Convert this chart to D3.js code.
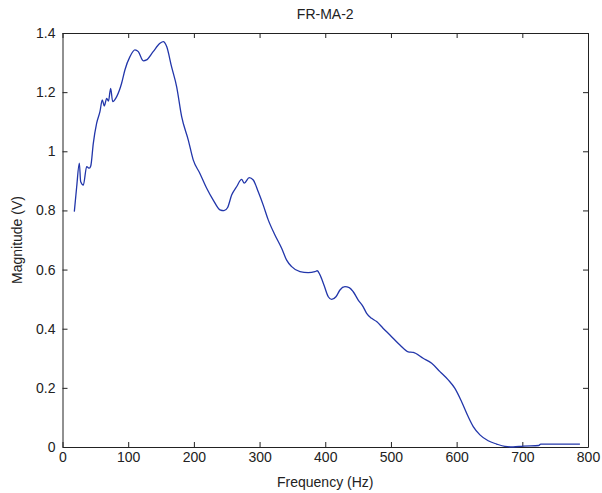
<!DOCTYPE html>
<html>
<head>
<meta charset="UTF-8">
<title>FR-MA-2</title>
<script src="https://cdn.jsdelivr.net/npm/d3@7"></script>
<style>
  body { margin: 0; background: #fff; }
  text { font-family: "Liberation Sans", Arial, sans-serif; fill: #222; }
</style>
</head>
<body>
<script>
// frequency (Hz) and magnitude (V)
var freq = [18, 21.6, 25.6, 27.7, 31.7, 36.8, 40.8, 43, 46.9, 52, 57, 60.6, 63.6, 67.3, 70, 73.3, 76.4,
  82.5, 90, 95, 102.7, 110.3, 115.4, 123, 128, 138, 148.4, 153.4, 158.6, 166, 173.8, 181.4, 191.5,
  199, 209, 219.5, 229.5, 239.7, 245.8, 251.4, 257.5, 265, 272.7, 276.7, 284.3, 290.4, 298, 305.6,
  313.2, 323.4, 333.6, 341.2, 348.9, 361.5, 374, 384.3, 387.8, 392, 398, 404.6, 409.7, 416.3, 422.4,
  430, 436.5, 442.6, 450.2, 457.8, 463, 470.6, 478.2, 488.3, 498.5, 513.7, 526.3, 534, 549, 562,
  574.6, 587.2, 597.4, 607.6, 617.7, 625.3, 635.5, 648, 660.9, 673.5, 686, 701, 725, 728, 787.7];
var mag = [0.796, 0.88, 0.96, 0.897, 0.886, 0.948, 0.943, 0.95, 1.027, 1.095, 1.134, 1.174, 1.153, 1.179, 1.17, 1.213, 1.168,
  1.185, 1.23, 1.275, 1.32, 1.343, 1.337, 1.306, 1.309, 1.337, 1.365, 1.371, 1.354, 1.286, 1.218, 1.117, 1.038,
  0.971, 0.926, 0.875, 0.835, 0.802, 0.799, 0.81, 0.852, 0.88, 0.905, 0.892, 0.911, 0.903, 0.863, 0.818,
  0.768, 0.717, 0.672, 0.632, 0.61, 0.593, 0.59, 0.593, 0.596, 0.582, 0.548, 0.508, 0.499, 0.508, 0.531,
  0.542, 0.539, 0.525, 0.497, 0.474, 0.452, 0.435, 0.424, 0.401, 0.379, 0.345, 0.322, 0.32, 0.30, 0.283,
  0.255, 0.227, 0.198, 0.153, 0.102, 0.069, 0.041, 0.021, 0.010, 0.002, 0.0, 0.003, 0.005, 0.010, 0.010];
var xTicks = [0, 100, 200, 300, 400, 500, 600, 700, 800];
var yTicks = [0, 0.2, 0.4, 0.6, 0.8, 1, 1.2, 1.4];

var width = 602, height = 493;
var margin = {top: 33, right: 14, bottom: 46, left: 62.5};
var iw = width - margin.left - margin.right;
var ih = height - margin.top - margin.bottom;

var svg = d3.select("body").append("svg")
  .attr("width", width)
  .attr("height", height);

var g = svg.append("g").attr("transform", "translate(" + margin.left + "," + margin.top + ")");

var x = d3.scaleLinear().domain([0, 800]).range([0, iw]);
var y = d3.scaleLinear().domain([0, 1.4]).range([ih, 0]);

// axes (ticks point inward, like matlab)
function styleAxis(sel) {
  sel.selectAll("path").attr("stroke", "#222");
  sel.selectAll("line").attr("stroke", "#222");
  sel.selectAll("text").attr("font-size", "14px").attr("fill", "#222");
}

g.append("g").attr("transform", "translate(0," + ih + ")")
  .call(d3.axisBottom(x).tickValues(xTicks).tickSizeInner(-5).tickSizeOuter(0).tickPadding(5))
  .call(styleAxis);
g.append("g")
  .call(d3.axisTop(x).tickValues(xTicks).tickSizeInner(-5).tickSizeOuter(0).tickFormat(""))
  .call(styleAxis);
g.append("g")
  .call(d3.axisLeft(y).tickValues(yTicks).tickSizeInner(-5).tickSizeOuter(0).tickPadding(7).tickFormat(d3.format("~g")))
  .call(styleAxis);
g.append("g").attr("transform", "translate(" + iw + ",0)")
  .call(d3.axisRight(y).tickValues(yTicks).tickSizeInner(-5).tickSizeOuter(0).tickFormat(""))
  .call(styleAxis);

// curve
var line = d3.line()
  .x(function(d, i){ return x(freq[i]); })
  .y(function(d){ return y(d); })
  .curve(d3.curveMonotoneX);

g.append("path")
  .datum(mag)
  .attr("fill", "none")
  .attr("stroke", "#2236aa")
  .attr("stroke-width", 1.3)
  .attr("d", line);

// title + labels
svg.append("text")
  .attr("x", margin.left + iw / 2).attr("y", 19)
  .attr("text-anchor", "middle").attr("font-size", "14px")
  .text("FR-MA-2");
svg.append("text")
  .attr("x", margin.left + iw / 2).attr("y", 487)
  .attr("text-anchor", "middle").attr("font-size", "14px")
  .text("Frequency (Hz)");
svg.append("text")
  .attr("transform", "translate(22," + (margin.top + ih / 2) + ") rotate(-90)")
  .attr("text-anchor", "middle").attr("font-size", "14px")
  .text("Magnitude (V)");
</script>
</body>
</html>
